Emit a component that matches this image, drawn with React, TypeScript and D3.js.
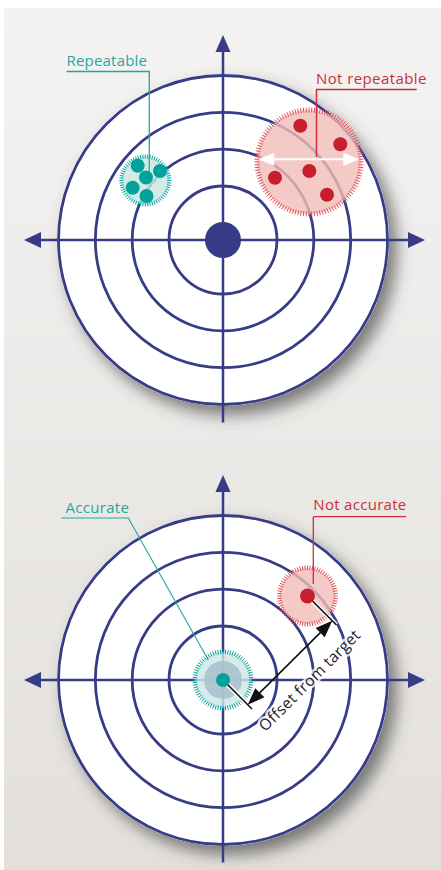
import React from 'react';
import * as d3 from 'd3';

// ---------- data ----------
const RINGS = [1, 2, 3, 4];
const RING_RADIUS_RANGE = [54, 164.5];

// top target: offsets (px units) from target centre
const REPEATABLE_CENTER = [-77.7, -59.5];
const REPEATABLE_DOTS = [
  [-85.3, -74.3],
  [-63, -69],
  [-77, -62.5],
  [-90.3, -52.3],
  [-76.5, -44],
];
const NOT_REPEATABLE_CENTER = [86, -78];
const NOT_REPEATABLE_DOTS = [
  [77.3, -114.3],
  [117.3, -95.7],
  [86.3, -69],
  [52, -62.3],
  [104, -45.3],
];
const SPREAD_ARROW = [[35.3, -80.7], [136.3, -80.7]];

// bottom target
const ACCURATE_CENTER = [0, 0];
const NOT_ACCURATE_CENTER = [84.5, -84];
const OFFSET_DISTANCE = 35;

const LABELS = ['Repeatable', 'Not repeatable', 'Accurate', 'Not accurate', 'Offset from target'];

// ---------- styles ----------
const NAVY = '#363c85';
const TEAL = '#00a39a';
const TEAL_TEXT = '#1ea99e';
const RED = '#c81f2e';
const RED_TEXT = '#c9303c';
const FONT = "'Open Sans', 'Noto Sans', sans-serif";

const W = 441;
const H = 870;

const rScale = d3.scaleLinear().domain([1, 4]).range(RING_RADIUS_RANGE);

function makeScales(cx: number, cy: number) {
  const x = d3.scaleLinear().domain([-200, 200]).range([cx - 200, cx + 200]);
  const y = d3.scaleLinear().domain([-200, 200]).range([cy - 200, cy + 200]);
  return { x, y };
}

function tickRing(cx: number, cy: number, r0: number, r1: number, n: number) {
  const p = d3.path();
  d3.range(n).forEach((i) => {
    const a = (i / n) * Math.PI * 2;
    p.moveTo(cx + r0 * Math.cos(a), cy + r0 * Math.sin(a));
    p.lineTo(cx + r1 * Math.cos(a), cy + r1 * Math.sin(a));
  });
  return p.toString();
}

function arrowHead(tx: number, ty: number, ang: number, len: number, hw: number) {
  const bx = tx - len * Math.cos(ang);
  const by = ty - len * Math.sin(ang);
  const nx = -Math.sin(ang);
  const ny = Math.cos(ang);
  return `M${tx},${ty}L${bx + nx * hw},${by + ny * hw}L${bx - nx * hw},${by - ny * hw}Z`;
}

function Target({ cx, cy, bull }: { cx: number; cy: number; bull: boolean }) {
  const outer = rScale(4);
  const vTop = cy - 205;
  const vBot = cy + 182.5;
  const hL = cx - 199;
  const hR = cx + 202;
  return (
    <g>
      <circle cx={cx} cy={cy} r={outer + 1.5} fill="#fff" filter="url(#shadow)" />
      {RINGS.map((r) => (
        <circle key={r} cx={cx} cy={cy} r={rScale(r)} fill="none" stroke={NAVY} strokeWidth={2.8} />
      ))}
      <line x1={cx} y1={vTop + 12} x2={cx} y2={vBot} stroke={NAVY} strokeWidth={2.5} />
      <line x1={hL + 12} y1={cy} x2={hR - 12} y2={cy} stroke={NAVY} strokeWidth={2.5} />
      <path d={arrowHead(cx, vTop, -Math.PI / 2, 17, 7.5)} fill={NAVY} />
      <path d={arrowHead(hL, cy, Math.PI, 17, 8)} fill={NAVY} />
      <path d={arrowHead(hR, cy, 0, 17, 8)} fill={NAVY} />
      {bull && <circle cx={cx} cy={cy} r={18} fill={NAVY} />}
    </g>
  );
}

function Halo({ cx, cy, rFill, r0, r1, n, fill, tick, fillOpacity }: any) {
  return (
    <g>
      <circle cx={cx} cy={cy} r={rFill} fill={fill} fillOpacity={fillOpacity} />
      <path d={tickRing(cx, cy, r0, r1, n)} stroke={tick} strokeWidth={1} fill="none" />
    </g>
  );
}

export default function App() {
  const top = makeScales(223, 240);
  const bot = makeScales(223, 680);

  const rc = [top.x(REPEATABLE_CENTER[0]), top.y(REPEATABLE_CENTER[1])];
  const nrc = [top.x(NOT_REPEATABLE_CENTER[0]), top.y(NOT_REPEATABLE_CENTER[1])];
  const ac = [bot.x(ACCURATE_CENTER[0]), bot.y(ACCURATE_CENTER[1])];
  const nac = [bot.x(NOT_ACCURATE_CENTER[0]), bot.y(NOT_ACCURATE_CENTER[1])];

  const sa0 = [top.x(SPREAD_ARROW[0][0]), top.y(SPREAD_ARROW[0][1])];
  const sa1 = [top.x(SPREAD_ARROW[1][0]), top.y(SPREAD_ARROW[1][1])];

  const u = Math.SQRT1_2;
  const ext = OFFSET_DISTANCE + 6;
  const pA = [nac[0] + OFFSET_DISTANCE * u, nac[1] + OFFSET_DISTANCE * u];
  const pB = [ac[0] + OFFSET_DISTANCE * u, ac[1] + OFFSET_DISTANCE * u];
  const angAB = Math.atan2(pA[1] - pB[1], pA[0] - pB[0]);
  const mid = [(pA[0] + pB[0]) / 2 + 22 * u + 4, (pA[1] + pB[1]) / 2 + 22 * u + 2];

  return (
    <svg width={W} height={H} style={{ position: 'absolute', left: 0, top: 0 }} fontFamily={FONT}>
      <defs>
        <linearGradient id="bg" x1="0" y1="0" x2="0" y2="1">
          <stop offset="0%" stopColor="#f4f3f2" />
          <stop offset="100%" stopColor="#e3e0dc" />
        </linearGradient>
        <filter id="shadow" x="-20%" y="-20%" width="150%" height="150%">
          <feDropShadow dx={8} dy={9} stdDeviation={8} floodColor="#4a4a4a" floodOpacity={0.7} />
        </filter>
      </defs>
      <rect x={0} y={0} width={W} height={H} fill="#fff" />
      <rect x={4} y={8} width={W - 4} height={H - 8} fill="url(#bg)" />

      <Target cx={223} cy={240} bull={true} />
      <Target cx={223} cy={680} bull={false} />

      {/* Repeatable cluster */}
      <Halo cx={rc[0]} cy={rc[1]} rFill={24} r0={22} r1={26} n={64} fill="#c9e6e3" fillOpacity={0.82} tick={TEAL} />
      <polyline points={`66.5,71.5 149.3,71.5 149.3,172`} fill="none" stroke={TEAL_TEXT} strokeWidth={1.3} />
      {REPEATABLE_DOTS.map((d, i) => (
        <circle key={i} cx={top.x(d[0])} cy={top.y(d[1])} r={7} fill={TEAL} />
      ))}
      <text x={66.5} y={66} fontSize={15} fill={TEAL_TEXT} letterSpacing={0.2}>{LABELS[0]}</text>

      {/* Not repeatable cluster */}
      <Halo cx={nrc[0]} cy={nrc[1]} rFill={52} r0={49.5} r1={54.5} n={120} fill="#f0bdb6" fillOpacity={0.8} tick="#e0505a" />
      {NOT_REPEATABLE_DOTS.map((d, i) => (
        <circle key={i} cx={top.x(d[0])} cy={top.y(d[1])} r={7} fill={RED} />
      ))}
      <polyline points={`316,89.5 416.7,89.5`} fill="none" stroke={RED_TEXT} strokeWidth={1.3} />
      <line x1={316.5} y1={89.5} x2={316.5} y2={157} stroke={RED_TEXT} strokeWidth={1.5} />
      <line x1={sa0[0] + 14} y1={sa0[1]} x2={sa1[0] - 14} y2={sa1[1]} stroke="#fff" strokeWidth={2} />
      <path d={arrowHead(sa0[0], sa0[1], Math.PI, 16, 6.5)} fill="#fff" />
      <path d={arrowHead(sa1[0], sa1[1], 0, 16, 6.5)} fill="#fff" />
      <text x={316} y={84} fontSize={15} fill={RED_TEXT} letterSpacing={0.4}>{LABELS[1]}</text>

      {/* Accurate */}
      <Halo cx={ac[0]} cy={ac[1]} rFill={28} r0={26} r1={30.5} n={72} fill="#cde7e5" fillOpacity={0.82} tick={TEAL} />
      <circle cx={ac[0]} cy={ac[1]} r={19} fill="#a7bfcb" fillOpacity={0.85} />
      <polyline points={`61.3,518 128.3,518 208.3,660`} fill="none" stroke={TEAL_TEXT} strokeWidth={1.1} />
      <text x={65.5} y={513} fontSize={15} fill={TEAL_TEXT} letterSpacing={0.3}>{LABELS[2]}</text>

      {/* Not accurate */}
      <Halo cx={nac[0]} cy={nac[1]} rFill={28} r0={26} r1={30.5} n={72} fill="#f0bdb6" fillOpacity={0.8} tick="#e0505a" />
      <polyline points={`313.3,516.7 406,516.7 `} fill="none" stroke={RED_TEXT} strokeWidth={1.3} />
      <line x1={313.3} y1={516.7} x2={313.3} y2={584} stroke={RED_TEXT} strokeWidth={1.3} />
      <text x={313.3} y={509.5} fontSize={15} fill={RED_TEXT} letterSpacing={0.3}>{LABELS[3]}</text>

      {/* offset extension lines with halo */}
      {[nac, ac].map((c, i) => (
        <g key={i}>
          <line x1={c[0]} y1={c[1]} x2={c[0] + ext * u} y2={c[1] + ext * u} stroke="#fff" strokeOpacity={0.75} strokeWidth={5} />
          <line x1={c[0]} y1={c[1]} x2={c[0] + ext * u} y2={c[1] + ext * u} stroke="#111" strokeWidth={1.6} />
        </g>
      ))}
      <circle cx={nac[0]} cy={nac[1]} r={7.5} fill={RED} />
      <circle cx={ac[0]} cy={ac[1]} r={7} fill={TEAL} />
      <line
        x1={pB[0] + 14 * Math.cos(angAB)}
        y1={pB[1] + 14 * Math.sin(angAB)}
        x2={pA[0] - 14 * Math.cos(angAB)}
        y2={pA[1] - 14 * Math.sin(angAB)}
        stroke="#111"
        strokeWidth={1.6}
      />
      <path d={arrowHead(pA[0], pA[1], angAB, 17, 6.5)} fill="#111" />
      <path d={arrowHead(pB[0], pB[1], angAB + Math.PI, 17, 6.5)} fill="#111" />
      <text
        transform={`translate(${mid[0]},${mid[1]}) rotate(-45)`}
        textAnchor="middle"
        dy="0.35em"
        fontSize={15.5}
        fill="#222"
        stroke="#fff"
        strokeOpacity={0.8}
        strokeWidth={5}
        paintOrder="stroke"
        strokeLinejoin="round"
        letterSpacing={0.3}
      >
        {LABELS[4]}
      </text>
    </svg>
  );
}
